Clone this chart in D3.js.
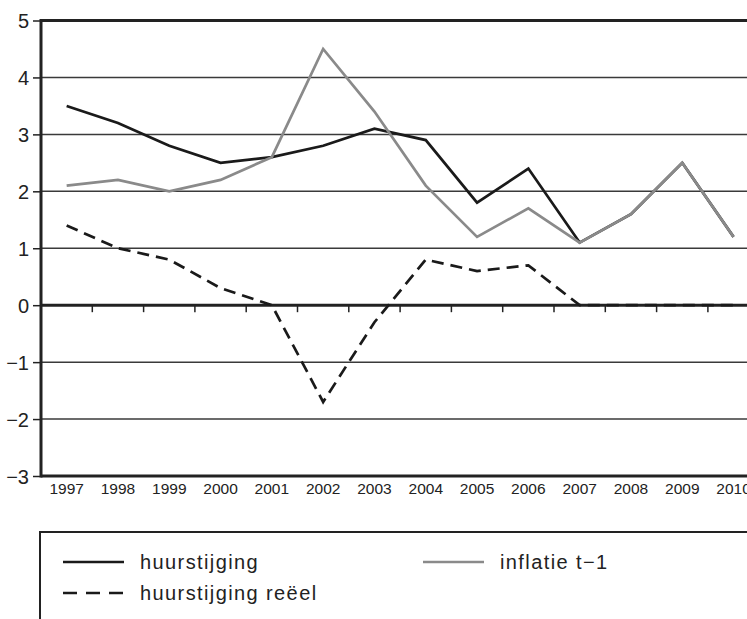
<!DOCTYPE html>
<html lang="nl">
<head>
<meta charset="UTF-8">
<title>Huurstijging en inflatie</title>
<style>
    body { margin: 0; background: #fff; overflow: hidden; }
    svg { display: block; font-family: "Liberation Sans", Arial, sans-serif; }
    .grid line { stroke: #3a3a3a; stroke-width: 1.5px; }
    .ylab { font-size: 20px; fill: #222; }
    .xlab { font-size: 15.5px; fill: #222; }
    .legend text { font-size: 20px; fill: #222; letter-spacing: 1.4px; }
</style>
</head>
<body>
<div id="chart"></div>
<script src="https://d3js.org/d3.v7.min.js"></script>
<script>
const years = ["1997", "1998", "1999", "2000", "2001", "2002", "2003", "2004", "2005", "2006", "2007", "2008", "2009", "2010"];
const huurstijging = [3.5, 3.2, 2.8, 2.5, 2.6, 2.8, 3.1, 2.9, 1.8, 2.4, 1.1, 1.6, 2.5, 1.2];
const inflatie = [2.1, 2.2, 2.0, 2.2, 2.6, 4.5, 3.4, 2.1, 1.2, 1.7, 1.1, 1.6, 2.5, 1.2];
const huurReeel = [1.4, 1.0, 0.8, 0.3, 0.0, -1.7, -0.3, 0.8, 0.6, 0.7, 0.0, 0.0, 0.0, 0.0];
const yTicks = [-3, -2, -1, 0, 1, 2, 3, 4, 5];

const width = 747, height = 619;
const plotLeft = 41, bandW = 51.3;
const plotTop = 20.5, plotBottom = 476;

const svg = d3.select("#chart").append("svg")
    .attr("width", width)
    .attr("height", height);

const x = d3.scaleBand().domain(years).range([plotLeft, plotLeft + bandW * years.length]);
const y = d3.scaleLinear().domain([-3, 5]).range([plotBottom, plotTop]);

// gridlines
svg.append("g").attr("class", "grid")
    .selectAll("line")
    .data(yTicks.filter(d => d !== 0 && d !== 5 && d !== -3))
    .join("line")
    .attr("x1", plotLeft).attr("x2", width)
    .attr("y1", d => y(d)).attr("y2", d => y(d));

// y axis with labels
const yAxis = d3.axisLeft(y).tickValues(yTicks).tickSize(8)
    .tickFormat(d => d < 0 ? "\u2212" + Math.abs(d) : d);
const yg = svg.append("g")
    .attr("transform", `translate(${plotLeft},0)`)
    .call(yAxis);
yg.select(".domain").remove();
yg.selectAll(".tick line").attr("stroke", "#222").attr("stroke-width", 1.5);
yg.selectAll(".tick text").attr("class", "ylab").attr("x", -12).attr("dy", "0.35em");

// x labels under the box (2010 runs off the right edge, as in the original)
const xg = svg.append("g")
    .attr("transform", `translate(0,${plotBottom})`)
    .call(d3.axisBottom(x).tickSize(0).tickPadding(7));
xg.select(".domain").remove();
xg.selectAll(".tick text").attr("class", "xlab").attr("dy", "0.71em");

// x ticks on the zero line at band boundaries
svg.append("g")
    .selectAll("line")
    .data(years.slice(1))
    .join("line")
    .attr("x1", d => x(d)).attr("x2", d => x(d))
    .attr("y1", y(0)).attr("y2", y(0) + 7)
    .attr("stroke", "#222").attr("stroke-width", 1.5);

// frame lines
const frame = svg.append("g").attr("stroke", "#222").attr("stroke-width", 3);
frame.append("line").attr("x1", plotLeft).attr("x2", width).attr("y1", y(5)).attr("y2", y(5));
frame.append("line").attr("x1", plotLeft).attr("x2", width).attr("y1", y(-3)).attr("y2", y(-3));
frame.append("line").attr("x1", plotLeft).attr("x2", width).attr("y1", y(0)).attr("y2", y(0));
frame.append("line").attr("x1", plotLeft).attr("x2", plotLeft).attr("y1", y(5) - 1.5).attr("y2", y(-3) + 1.5);

const line = d3.line()
    .x((d, i) => x(years[i]) + x.bandwidth() / 2)
    .y(d => y(d));

const series = [
    { name: "huurstijging", values: huurstijging, color: "#1a1a1a", dash: null },
    { name: "huurstijging reëel", values: huurReeel, color: "#1a1a1a", dash: "12,7" },
    { name: "inflatie t\u22121", values: inflatie, color: "#8a8a8a", dash: null }
];

series.forEach(s => {
    svg.append("path")
        .datum(s.values)
        .attr("d", line)
        .attr("fill", "none")
        .attr("stroke", s.color)
        .attr("stroke-width", 2.7)
        .attr("stroke-linejoin", "miter")
        .attr("stroke-dasharray", s.dash);
});

// legend
const legend = svg.append("g").attr("class", "legend");
legend.append("path")
    .attr("d", `M${width + 5},532 H40 V${height + 5}`)
    .attr("fill", "none").attr("stroke", "#222").attr("stroke-width", 2);

const legendPos = [
    { s: series[0], lx: 63, ly: 562 },
    { s: series[1], lx: 63, ly: 593 },
    { s: series[2], lx: 423, ly: 562 }
];
legendPos.forEach(p => {
    legend.append("line")
        .attr("x1", p.lx).attr("x2", p.lx + 61)
        .attr("y1", p.ly).attr("y2", p.ly)
        .attr("stroke", p.s.color).attr("stroke-width", 2.7)
        .attr("stroke-dasharray", p.s.dash ? "14,9" : null);
    legend.append("text")
        .attr("x", p.lx + 77).attr("y", p.ly)
        .attr("dy", "0.35em")
        .text(p.s.name);
});
</script>
</body>
</html>
